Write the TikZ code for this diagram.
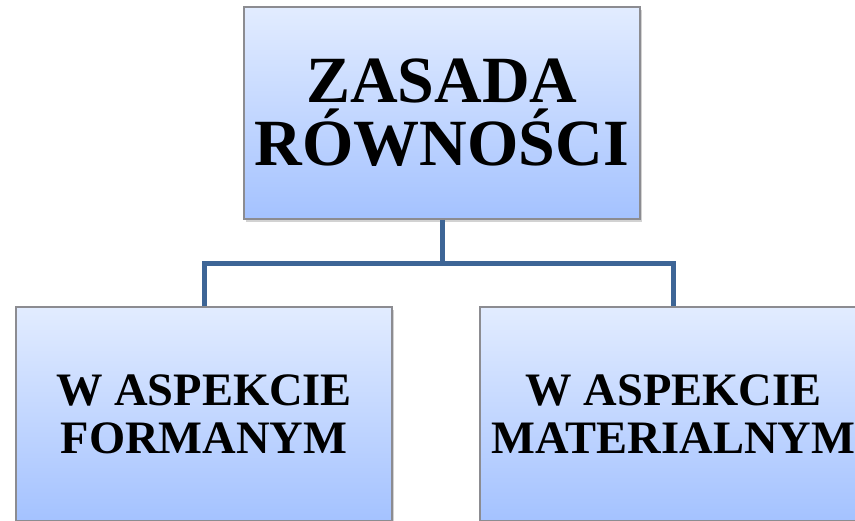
\documentclass[tikz,border=0pt]{standalone}
\usepackage{fontspec}
\setmainfont{Liberation Serif}
\usetikzlibrary{shadows}
\definecolor{boxtop}{RGB}{226,236,255}
\definecolor{boxbot}{RGB}{164,194,255}
\definecolor{boxedge}{RGB}{140,140,145}
\definecolor{conn}{RGB}{61,101,150}
\tikzset{
  box/.style={draw=boxedge, line width=1.2pt, top color=boxtop, bottom color=boxbot,
    rectangle, inner sep=0pt, align=center, font=\bfseries,
    drop shadow={opacity=0.35, shadow xshift=1.5pt, shadow yshift=-2.5pt}},
  bigtext/.style={font=\bfseries\fontsize{66}{63}\selectfont},
  smalltext/.style={font=\bfseries\fontsize{46.5}{48}\selectfont},
  connector/.style={draw=conn, line width=5pt, line join=miter}
}
\begin{document}
\begin{tikzpicture}[x=1pt,y=1pt]
\useasboundingbox (0,0) rectangle (855,-520);
\fill[white] (0,0) rectangle (855,-520);
\begin{scope}
\clip (0,0) rectangle (855,-520);
\node[box, bigtext, minimum width=396pt, minimum height=212pt] (top) at (442,-113) {ZASADA\\RÓWNOŚCI};
\node[box, smalltext, minimum width=376pt, minimum height=214pt] (left) at (204,-414) {W ASPEKCIE\\FORMANYM};
\node[box, smalltext, minimum width=387pt, minimum height=214pt] (right) at (673.5,-414) {W ASPEKCIE\\MATERIALNYM};
\coordinate (j) at (442,-263.5);
\draw[connector] (top.south) -- (j);
\draw[connector] (left.north) |- (j) -| (right.north);
\end{scope}
\end{tikzpicture}
\end{document}
